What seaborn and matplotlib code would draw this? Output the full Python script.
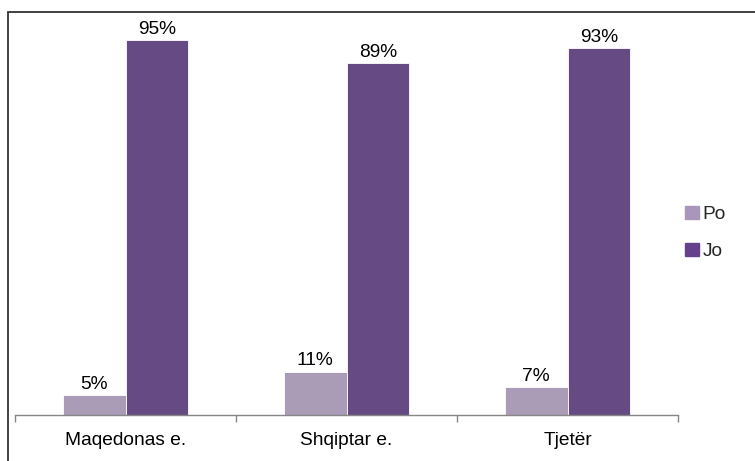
import matplotlib
matplotlib.use("Agg")
import matplotlib.pyplot as plt
import matplotlib.patches as mpatches
import seaborn as sns
import pandas as pd
import numpy as np

categories = ["Maqedonas e.", "Shqiptar e.", "Tjetër"]
po_values = [5, 11, 7]
jo_values = [95, 89, 93]
series_names = ["Po", "Jo"]
colors = ["#AA96BB", "#65408C"]

df = pd.DataFrame({
    "grupi": categories * 2,
    "pergjigja": [series_names[0]] * 3 + [series_names[1]] * 3,
    "vlera": po_values + jo_values,
})

sns.set_style("white")
plt.rcParams["font.family"] = ["Liberation Sans", "DejaVu Sans"]

W, H = 755, 461
fig = plt.figure(figsize=(W / 100, H / 100), dpi=100)
ax = fig.add_axes([15 / W, 1 - 415 / H, (678 - 15) / W, (415 - 20) / H])

sns.barplot(data=df, x="grupi", y="vlera", hue="pergjigja", order=categories,
            hue_order=series_names, palette=colors, width=0.57,
            edgecolor="white", linewidth=0.6, ax=ax, legend=False)

for cont in ax.containers:
    ax.bar_label(cont, labels=[f"{v:.0f}%" for v in cont.datavalues],
                 padding=1.5, fontsize=13.8, color="black")

ax.set_ylim(0, 100)
ax.set_xlim(-0.5, 2.5)
ax.set_xlabel("")
ax.set_ylabel("")
ax.set_yticks([])
for s in ["top", "right", "left"]:
    ax.spines[s].set_visible(False)
ax.spines["bottom"].set_color("#868686")
ax.spines["bottom"].set_linewidth(1.0)
ax.tick_params(axis="x", which="major", length=0, labelsize=13.8, pad=12,
               labelcolor="black")
ax.set_xticks(np.arange(-0.5, 3.0, 1.0), minor=True)
ax.tick_params(axis="x", which="minor", bottom=True, length=5, width=1.0,
               color="#868686", direction="out")

handles = [mpatches.Patch(color=c, label=n) for c, n in zip(colors, series_names)]
fig.legend(handles=handles, loc="center left", bbox_to_anchor=(672 / W, 1 - 233 / H),
           frameon=False, fontsize=13.8, handlelength=0.7, handleheight=0.7,
           handletextpad=0.2, labelspacing=1.0, borderpad=0.2)

# outer frame around the chart area
fig.add_artist(mpatches.Rectangle((8 / W, -0.05), 1.2, 1 - 12 / H + 0.05,
                                  transform=fig.transFigure, fill=False,
                                  edgecolor="#333333", linewidth=1.3))

fig.savefig("out.png", dpi=100)
